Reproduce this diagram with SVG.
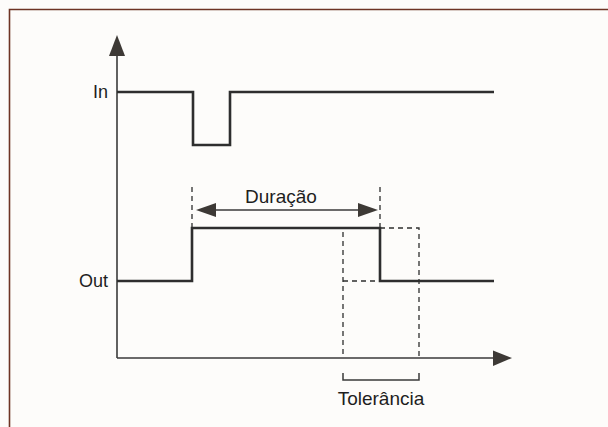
<svg xmlns="http://www.w3.org/2000/svg" width="608" height="427" viewBox="0 0 608 427">
<style>
.sig{fill:none;stroke:#2e2e2e;stroke-width:2.6;stroke-linejoin:miter}
.ax{fill:none;stroke:#3a3a3a;stroke-width:1.6}
.dash{fill:none;stroke:#2e2e2e;stroke-width:1.3;stroke-dasharray:5 4}
.head{fill:#3d3935}
.lbl{font-family:"Liberation Sans",Arial,sans-serif;font-size:18px;fill:#1e1e1e}
</style>
<rect x="0" y="0" width="608" height="427" fill="#fdfcfa"/>
<path d="M9.5,427 V9.5 H608" fill="none" stroke="#6e3424" stroke-width="1.6"/>
<g id="connectors">
  <line class="ax" x1="117" y1="52" x2="117" y2="358"/>
  <polygon class="head" points="117,35 109,56 125,56"/>
  <line class="ax" x1="117" y1="358" x2="496" y2="358"/>
  <polygon class="head" points="512,358 493,350.5 493,366"/>
  <polyline class="sig" points="117,92 193,92 193,145 230,145 230,92 494,92"/>
  <polyline class="sig" points="117,281 192,281 192,228 380,228 380,281 494,281"/>
  <line class="dash" x1="192" y1="187" x2="192" y2="228"/>
  <line class="dash" x1="380" y1="187" x2="380" y2="228"/>
  <polyline class="dash" points="380,228 419,228 419,358"/>
  <line class="dash" x1="343" y1="232" x2="343" y2="358"/>
  <line class="dash" x1="343" y1="281" x2="380" y2="281"/>
  <line class="ax" x1="212" y1="210" x2="362" y2="210"/>
  <polygon class="head" points="196,210 216,203 216,217"/>
  <polygon class="head" points="378,210 358,203 358,217"/>
  <path d="M343,373 V380 H419 V373" fill="none" stroke="#3a3a3a" stroke-width="1.5"/>
</g>
<g id="label-in"><text class="lbl" x="108" y="98" text-anchor="end">In</text></g>
<g id="label-out"><text class="lbl" x="108" y="287" text-anchor="end">Out</text></g>
<g id="label-duracao"><text class="lbl" x="281" y="203" text-anchor="middle" style="font-size:19px">Duração</text></g>
<g id="label-tolerancia"><text class="lbl" x="381" y="405" text-anchor="middle" style="font-size:19px">Tolerância</text></g>
</svg>
